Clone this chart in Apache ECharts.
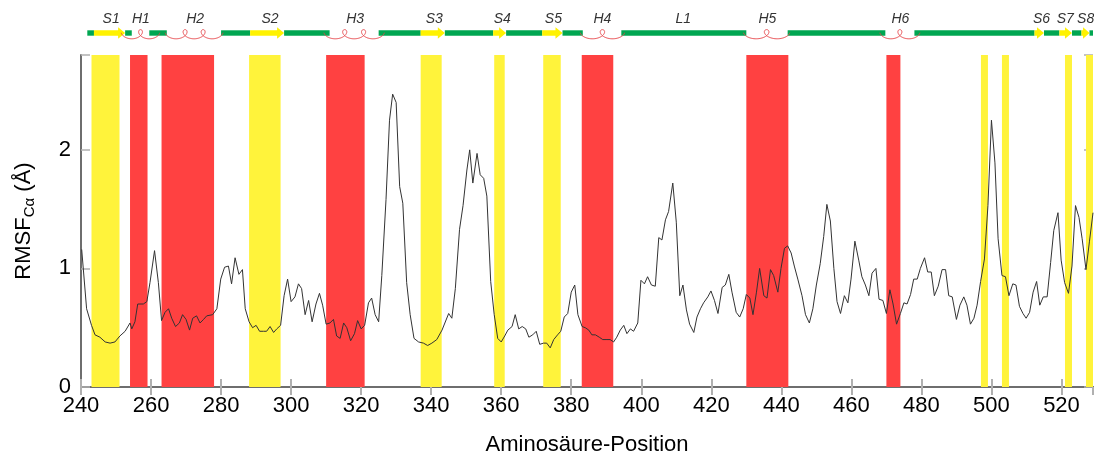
<!DOCTYPE html>
<html>
<head>
<meta charset="utf-8">
<script src="https://cdn.jsdelivr.net/npm/echarts@6/dist/echarts.min.js"></script>
<style>
html, body { margin: 0; padding: 0; background: #fff; }
#chart { width: 1094px; height: 461px; }
</style>
</head>
<body>
<div id="chart"></div>
<script>
// RMSF per residue
var residues = [
  240.2, 241.6, 243, 244, 245.4, 246.9, 248.3, 249.7, 251.1, 252.6, 254, 254.5, 255.4, 256.2, 257.8, 258.8, 259.7, 261, 262.1, 263,
  264, 265, 265.9, 267, 268.1, 269, 270, 271, 271.9, 273, 274, 275, 275.9, 277.6, 278.8, 279.9, 281, 282.1, 283, 284,
  285.1, 286.1, 286.9, 288, 289, 290, 291, 292.1, 293, 294, 295, 295.9, 297, 298, 299, 300, 301.1, 302.1, 303, 304,
  305, 306, 307.1, 308.1, 309, 310, 311.1, 312.1, 313, 314, 315, 315.9, 317, 318.1, 319, 320, 321, 322.1, 323, 324,
  325, 325.9, 327.1, 328.1, 329, 330, 331, 331.9, 333, 334, 335.1, 336.4, 337.8, 339, 340.2, 341.6, 343.1, 345, 345.9, 346.9,
  348.1, 349.1, 350.2, 351, 351.9, 353.1, 354, 355, 355.9, 357, 358, 359, 360, 361, 361.9, 363.1, 364, 365, 366, 367,
  367.9, 369, 370, 371, 372.1, 373, 374, 375, 376.1, 377, 378, 379, 380, 381, 381.9, 383.1, 384, 385, 385.9, 386.9,
  388, 389, 390.2, 391.1, 392.1, 393, 394, 395, 395.9, 396.9, 397.8, 399, 399.9, 400.9, 401.8, 402.9, 404, 405, 405.9, 406.9,
  407.8, 409, 410, 411, 411.9, 412.9, 413.8, 415, 415.9, 416.9, 417.8, 419, 419.9, 420.9, 421.9, 423.1, 424, 425, 425.9, 427.1,
  428.1, 429.1, 430, 431, 431.9, 432.9, 433.8, 435, 435.9, 436.9, 437.8, 439, 439.9, 440.9, 441.8, 442.8, 443.7, 444.7, 445.9, 446.9,
  448, 449, 450, 451.1, 452.1, 453, 454, 455, 455.9, 456.9, 458, 459, 459.9, 461, 462.1, 463, 464, 465, 465.9, 467,
  467.9, 469, 470, 471, 471.9, 472.9, 474, 475, 475.9, 476.9, 477.8, 478.8, 479.7, 480.9, 481.8, 482.8, 483.7, 484.8, 485.9, 486.9,
  487.8, 488.8, 490, 491, 492.1, 493, 494, 495, 495.9, 496.9, 498, 499, 500, 501, 501.9, 503, 504, 505, 506.1, 507,
  508, 509, 509.9, 510.9, 511.9, 512.9, 513.8, 514.8, 515.9, 516.9, 517.8, 519, 519.9, 520.9, 522, 523, 524, 525, 525.9, 527,
  528, 529
];
var rmsf = [
  1.16, 0.66, 0.52, 0.44, 0.42, 0.38, 0.37, 0.38, 0.43, 0.47, 0.54, 0.49, 0.55, 0.70, 0.70, 0.72, 0.88, 1.15, 0.88, 0.56,
  0.63, 0.66, 0.58, 0.51, 0.54, 0.61, 0.57, 0.48, 0.58, 0.60, 0.54, 0.57, 0.60, 0.61, 0.66, 0.91, 1.01, 1.02, 0.87, 1.09,
  0.95, 0.99, 0.66, 0.55, 0.50, 0.52, 0.47, 0.47, 0.47, 0.51, 0.46, 0.49, 0.52, 0.77, 0.91, 0.72, 0.76, 0.87, 0.83, 0.61,
  0.73, 0.55, 0.70, 0.79, 0.69, 0.53, 0.54, 0.57, 0.43, 0.41, 0.54, 0.50, 0.39, 0.45, 0.56, 0.49, 0.52, 0.71, 0.75, 0.61,
  0.55, 0.94, 1.58, 2.25, 2.47, 2.40, 1.69, 1.55, 0.88, 0.61, 0.41, 0.38, 0.37, 0.35, 0.37, 0.40, 0.48, 0.62, 0.58, 0.83,
  1.33, 1.53, 1.83, 2.00, 1.72, 1.97, 1.79, 1.76, 1.61, 0.89, 0.61, 0.41, 0.38, 0.43, 0.48, 0.51, 0.61, 0.49, 0.51, 0.49,
  0.42, 0.44, 0.47, 0.36, 0.37, 0.37, 0.33, 0.40, 0.44, 0.47, 0.59, 0.62, 0.80, 0.86, 0.61, 0.51, 0.50, 0.48, 0.44, 0.44,
  0.42, 0.40, 0.40, 0.40, 0.38, 0.42, 0.48, 0.52, 0.45, 0.49, 0.47, 0.54, 0.90, 0.87, 0.93, 0.86, 0.85, 1.26, 1.24, 1.41,
  1.48, 1.72, 1.39, 0.77, 0.86, 0.65, 0.53, 0.46, 0.59, 0.66, 0.71, 0.76, 0.81, 0.73, 0.62, 0.84, 0.86, 0.95, 0.80, 0.63,
  0.59, 0.66, 0.78, 0.75, 0.61, 0.80, 1.00, 0.77, 0.75, 0.99, 0.94, 0.80, 1.00, 1.17, 1.19, 1.13, 1.02, 0.91, 0.77, 0.61,
  0.54, 0.66, 0.86, 1.04, 1.27, 1.54, 1.40, 1.00, 0.72, 0.62, 0.77, 0.71, 0.91, 1.23, 1.07, 0.93, 0.86, 0.77, 0.96, 1.00,
  0.74, 0.73, 0.62, 0.82, 0.70, 0.53, 0.62, 0.71, 0.70, 0.78, 0.91, 0.91, 1.00, 1.09, 0.97, 0.97, 0.77, 0.85, 0.99, 0.99,
  0.77, 0.76, 0.57, 0.69, 0.76, 0.69, 0.53, 0.58, 0.69, 0.89, 1.08, 1.53, 2.25, 1.89, 1.25, 0.94, 0.93, 0.77, 0.87, 0.86,
  0.68, 0.62, 0.58, 0.63, 0.80, 0.89, 0.69, 0.76, 0.76, 1.05, 1.32, 1.47, 1.07, 0.88, 0.79, 1.02, 1.53, 1.43, 1.25, 0.99,
  1.23, 1.47
];

// shaded ranges in the plot
var strandBands = [[243, 251], [288, 297], [337, 343], [358, 361], [372, 377], [497, 499], [503, 505], [521, 523], [527, 529]];
var helixBands = [[254, 259], [263, 278], [310, 321], [383, 392], [430, 442], [470, 474]];

// secondary structure track on top
var coilSegs = [[241.8, 243.7], [252.6, 254.5], [259.5, 264.5], [280, 288.3], [298, 311], [325, 337], [343.9, 357.7],
  [361.4, 371.7], [377.5, 383.3], [394.3, 430], [441.8, 469.7], [478, 512.3], [515, 519.4], [523, 525.7], [528, 529]];
var strandSegs = [[243.7, 252.6], [288.3, 298], [337, 343.9], [357.7, 361.4], [371.7, 377.5], [512.3, 515], [519.4, 523], [525.7, 528]];
var helixSegs = [[253, 261, 1], [265.6, 279, 2], [311, 325, 2], [384.3, 393.5, 1], [431, 440.6, 1], [469.7, 478, 1]];
var trackNames = ['S1', 'H1', 'H2', 'S2', 'H3', 'S3', 'S4', 'S5', 'H4', 'L1', 'H5', 'H6', 'S6', 'S7', 'S8'];
var trackNamePos = [248.6, 257.1, 272.6, 294, 318.3, 340.9, 360.3, 374.9, 388.9, 412, 436, 474, 514.3, 521.1, 526.9];

var X_MIN = 240, X_MAX = 529, Y_MAX = 2.8;
var YELLOW = '#fff33b', RED = '#ff4141';
var FONT = 'Liberation Sans';

var chart = echarts.init(document.getElementById('chart'));

var bandData = strandBands.map(function (b) { return [b[0], b[1], 0]; })
  .concat(helixBands.map(function (b) { return [b[0], b[1], 1]; }));

function renderBand(params, api) {
  var p0 = api.coord([api.value(0), 0]);
  var p1 = api.coord([api.value(1), Y_MAX]);
  return {
    type: 'rect',
    shape: { x: p0[0], y: p1[1], width: p1[0] - p0[0], height: p0[1] - p1[1] },
    style: { fill: api.value(2) === 0 ? YELLOW : RED }
  };
}

function renderCoil(params, api) {
  var a = api.coord([api.value(0), 0.5]);
  var b = api.coord([api.value(1), 0.5]);
  return { type: 'rect', shape: { x: a[0], y: a[1] - 2.7, width: b[0] - a[0], height: 5.4 }, style: { fill: '#00a651' } };
}

function renderStrand(params, api) {
  var a = api.coord([api.value(0), 0.5]);
  var b = api.coord([api.value(1), 0.5]);
  var cy = a[1];
  var head = Math.min(7, (b[0] - a[0]) * 0.8);
  var hx = b[0] - head;
  return {
    type: 'polygon',
    shape: { points: [[a[0], cy - 2.8], [hx, cy - 2.8], [hx, cy - 5.8], [b[0], cy], [hx, cy + 5.8], [hx, cy + 2.8], [a[0], cy + 2.8]] },
    style: { fill: '#fff200' }
  };
}

function renderHelix(params, api) {
  var a = api.coord([api.value(0), 0.5]);
  var b = api.coord([api.value(1), 0.5]);
  var n = api.value(2);
  var t0 = -0.6 * Math.PI, t1 = 2 * Math.PI * n + 0.6 * Math.PI;
  var s = (b[0] - a[0]) / (t1 - t0);
  var amp = 2.0 * s;
  var pts = [];
  for (var i = 0; i <= 120 * n; i++) {
    var t = t0 + (t1 - t0) * i / (120 * n);
    pts.push([a[0] + s * (t - t0) + amp * Math.sin(t), a[1] + 1.2 + 4.6 * Math.cos(t)]);
  }
  return { type: 'polyline', shape: { points: pts }, style: { stroke: '#e8474b', lineWidth: 1, fill: null } };
}

function renderName(params, api) {
  var p = api.coord([api.value(0), 0.5]);
  return {
    type: 'text', x: p[0], y: p[1] - 14,
    style: {
      text: trackNames[params.dataIndex], fontSize: 14, fontStyle: 'italic', fontFamily: FONT,
      fill: '#333', align: 'center', verticalAlign: 'middle'
    }
  };
}

var lineData = residues.map(function (x, i) { return [x, rmsf[i]]; });

chart.setOption({
  animation: false,
  backgroundColor: '#fff',
  grid: [
    { left: 81, right: 1, top: 55, bottom: 72 },
    { left: 81, right: 1, top: 13, height: 40 }
  ],
  xAxis: [{
    type: 'value', gridIndex: 0, min: X_MIN, max: X_MAX, interval: 20,
    name: 'Aminosäure-Position', nameLocation: 'middle', nameGap: 47,
    nameTextStyle: { fontSize: 22, color: '#000', fontFamily: FONT },
    axisLine: { lineStyle: { color: '#6e6e6e', width: 2 } },
    axisTick: { inside: true, length: 8, lineStyle: { color: '#b0b0b0', width: 2 } },
    axisLabel: { fontSize: 22, color: '#000', fontFamily: FONT, margin: 8, showMaxLabel: false },
    splitLine: { show: false }
  }, {
    type: 'value', gridIndex: 0, position: 'top', min: X_MIN, max: X_MAX, interval: 20,
    axisLine: { lineStyle: { color: '#6e6e6e', width: 2 } },
    axisTick: { inside: true, length: 8, lineStyle: { color: '#b0b0b0', width: 2 } },
    axisLabel: { show: false },
    splitLine: { show: false }
  }, {
    type: 'value', gridIndex: 1, min: X_MIN, max: X_MAX, show: false
  }],
  yAxis: [{
    type: 'value', gridIndex: 0, min: 0, max: Y_MAX, interval: 1,
    name: 'RMSF{sub|Cα} (Å)', nameLocation: 'middle', nameGap: 44,
    nameTextStyle: {
      fontSize: 22, color: '#000', fontFamily: FONT,
      rich: { sub: { fontSize: 15, fontFamily: FONT, color: '#000', padding: [12, 0, 0, 0] } }
    },
    axisLine: { show: true, lineStyle: { color: '#6e6e6e', width: 2 } },
    axisTick: { show: true, inside: true, length: 9, lineStyle: { color: '#b0b0b0', width: 1.5 } },
    axisLabel: {
      fontSize: 22, color: '#000', fontFamily: FONT, margin: 10,
      formatter: function (v) { return v % 1 === 0 ? String(v) : ''; }
    },
    splitLine: { show: false }
  }, {
    type: 'value', gridIndex: 0, position: 'right', min: 0, max: Y_MAX, interval: 1,
    axisLine: { show: false },
    axisTick: { show: true, inside: true, length: 9, lineStyle: { color: '#b0b0b0', width: 1.5 } },
    axisLabel: { show: false },
    splitLine: { show: false }
  }, {
    type: 'value', gridIndex: 1, min: 0, max: 1, show: false
  }],
  series: [{
    type: 'custom', xAxisIndex: 0, yAxisIndex: 0, renderItem: renderBand, data: bandData, clip: true, silent: true, z: 1
  }, {
    type: 'line', xAxisIndex: 0, yAxisIndex: 0, data: lineData, symbol: 'none', silent: true, z: 3,
    lineStyle: { color: '#333', width: 1 }
  }, {
    type: 'custom', xAxisIndex: 2, yAxisIndex: 2, renderItem: renderCoil, data: coilSegs, silent: true
  }, {
    type: 'custom', xAxisIndex: 2, yAxisIndex: 2, renderItem: renderStrand, data: strandSegs, silent: true
  }, {
    type: 'custom', xAxisIndex: 2, yAxisIndex: 2, renderItem: renderHelix, data: helixSegs, silent: true
  }, {
    type: 'custom', xAxisIndex: 2, yAxisIndex: 2, renderItem: renderName, silent: true,
    data: trackNamePos.map(function (x) { return [x, 0.5]; })
  }]
});
</script>
</body>
</html>
